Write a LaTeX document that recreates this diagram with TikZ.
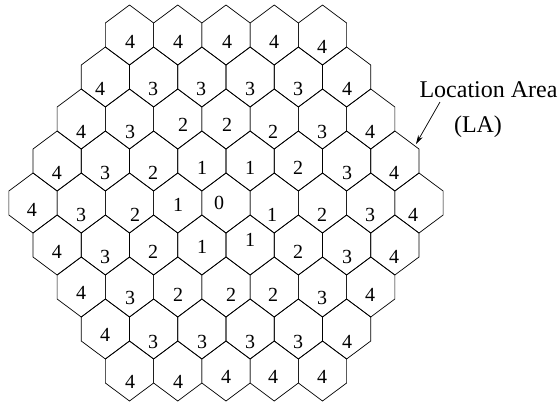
\documentclass[tikz,border=0pt]{standalone}
\usepackage{fontspec}
\setmainfont{Liberation Serif}
\usetikzlibrary{arrows.meta}
\tikzset{
  hexline/.style={draw=black, line width=0.7pt, line join=miter},
  num/.style={inner sep=0pt, font=\fontsize{20}{24}\selectfont},
  lbl/.style={inner sep=0pt, anchor=base, font=\fontsize{24}{28}\selectfont},
  pointer/.style={draw=black, line width=0.7pt, -{Stealth[length=9pt,width=5pt]}}
}
\begin{document}
\begin{tikzpicture}[x=1pt,y=-1pt]
\useasboundingbox (0,0) rectangle (558,405);
% hexagonal cells
\foreach \r in {0,...,8} {
  \pgfmathtruncatemacro\n{9-abs(\r-4)}
  \foreach \k in {1,...,\n} {
    \pgfmathsetmacro\cx{226+48.25*(\k-1-(\n-1)/2)}
    \pgfmathsetmacro\cy{35+42*\r}
    \draw[hexline] (\cx,\cy) ++(0,-30) -- ++(24.125,18) -- ++(0,24)
      -- ++(-24.125,18) -- ++(-24.125,-18) -- ++(0,-24) -- cycle;
  }
}
% ring numbers
\foreach \x/\y/\t/\nm in {
  130/42/4/a1,178/42/4/a2,227/42/4/a3,274/42/4/a4,322/47/4/a5,
  100/89/4/b1,153/89/3/b2,201/89/3/b3,250/89/3/b4,298/89/3/b5,347/89/4/b6,
  81/132/4/c1,130/132/3/c2,183/125/2/c3,227/125/2/c4,273/132/2/c5,322/132/3/c6,370/132/4/c7,
  57/173/4/d1,105/173/3/d2,153/173/2/d3,202/168/1/d4,250/168/1/d5,298/168/2/d6,347/173/3/d7,394/173/4/d8,
  32/210/4/e1,81/215/3/e2,135/215/2/e3,178/205/1/e4,219/203/0/e5,272/215/1/e6,322/215/2/e7,370/215/3/e8,413/215/4/e9,
  57/252/4/f1,105/257/3/f2,153/252/2/f3,202/247/1/f4,250/240/1/f5,298/252/2/f6,347/257/3/f7,394/257/4/f8,
  81/293/4/g1,130/298/3/g2,178/295/2/g3,231/295/2/g4,273/295/2/g5,322/298/3/g6,370/295/4/g7,
  105/335/4/h1,153/342/3/h2,202/342/3/h3,250/342/3/h4,298/342/3/h5,347/342/4/h6,
  130/382/4/i1,178/382/4/i2,226/377/4/i3,273/377/4/i4,322/377/4/i5}
  {\node[num] (\nm) at (\x,\y) {\t};}
% label
\node[lbl] (la1) at (488.5,97) {Location Area};
\node[lbl] (la2) at (478,132) {(LA)};
\coordinate (arrstart) at (440,102);
\coordinate (arrtip) at (416,144);
\draw[pointer] (arrstart) -- (arrtip);
\end{tikzpicture}
\end{document}
